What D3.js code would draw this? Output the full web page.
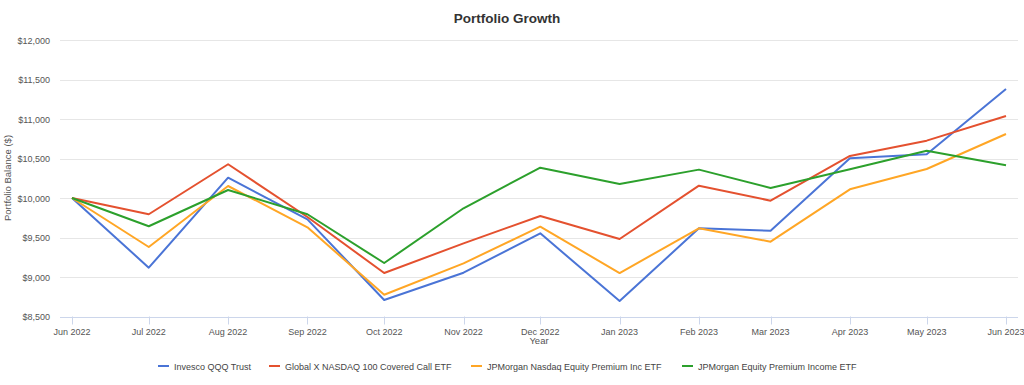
<!DOCTYPE html>
<html>
<head>
<meta charset="utf-8">
<script src="https://cdn.jsdelivr.net/npm/d3@7"></script>
<style>
	body { margin: 0; background: #fff; }
	svg { font-family: Arial, "Liberation Sans", sans-serif; }
</style>
</head>
<body>
<svg id="growth-chart" width="1024" height="385"></svg>
<script>
// monthly balances, Jun 2022 .. Jun 2023
const months = ['2022-06', '2022-07', '2022-08', '2022-09', '2022-10', '2022-11', '2022-12',
	'2023-01', '2023-02', '2023-03', '2023-04', '2023-05', '2023-06'];
const seriesNames = ['Invesco QQQ Trust', 'Global X NASDAQ 100 Covered Call ETF',
	'JPMorgan Nasdaq Equity Premium Inc ETF', 'JPMorgan Equity Premium Income ETF'];
const qqq = [10000, 9118, 10257, 9730, 8709, 9054, 9553, 8696, 9616, 9586, 10503, 10553, 11380];
const qyld = [10000, 9794, 10427, 9760, 9050, 9426, 9772, 9481, 10156, 9966, 10532, 10726, 11038];
const jepq = [10000, 9380, 10152, 9629, 8776, 9173, 9637, 9050, 9616, 9447, 10110, 10367, 10810];
const jepi = [10000, 9642, 10101, 9794, 9177, 9870, 10384, 10177, 10359, 10127, 10363, 10599, 10414];
const yTicks = [8500, 9000, 9500, 10000, 10500, 11000, 11500, 12000];
const colors = ['#4a74d6', '#e4512f', '#ffa625', '#2ca02c'];

const svg = d3.select('#growth-chart');
const parseMonth = d3.timeParse('%Y-%m');
const dates = months.map(parseMonth);
const allSeries = [qqq, qyld, jepq, jepi];

const //
	plotLeft = 60,
	plotRight = 1018,
	x = d3.scaleTime().domain([dates[0], dates[dates.length - 1]]).range([72, 1006]),
	y = d3.scaleLinear().domain([8500, 12000]).range([316.5, 40]);

//gridlines
svg.append('g')
	.selectAll('line')
	.data(yTicks)
	.enter()
	.append('line')
	.attr('x1', plotLeft)
	.attr('x2', plotRight)
	.attr('y1', d => Math.round(y(d)) + 0.5)
	.attr('y2', d => Math.round(y(d)) + 0.5)
	.attr('stroke', d => (d === 8500 ? '#ccd6eb' : '#e6e6e6'))
	.attr('stroke-width', 1);

//y labels
svg.append('g')
	.selectAll('text')
	.data(yTicks)
	.enter()
	.append('text')
	.attr('x', 50)
	.attr('y', d => y(d) + 3.5)
	.attr('text-anchor', 'end')
	.attr('font-size', '9px')
	.attr('fill', '#555')
	.text(d => d3.format('$,')(d));

//x axis ticks + labels
const xAxis = svg.append('g').attr('transform', 'translate(0,316.5)');
xAxis.selectAll('line')
	.data(dates)
	.enter()
	.append('line')
	.attr('x1', d => Math.round(x(d)) + 0.5)
	.attr('x2', d => Math.round(x(d)) + 0.5)
	.attr('y1', 0)
	.attr('y2', 8)
	.attr('stroke', '#ccd6eb');
xAxis.selectAll('text')
	.data(dates)
	.enter()
	.append('text')
	.attr('x', d => x(d))
	.attr('y', 18)
	.attr('text-anchor', 'middle')
	.attr('font-size', '9px')
	.attr('fill', '#555')
	.text(d => d3.timeFormat('%b %Y')(d));

//titles
svg.append('text')
	.attr('x', 507)
	.attr('y', 23)
	.attr('text-anchor', 'middle')
	.attr('font-size', '13.5px')
	.attr('font-weight', 'bold')
	.attr('fill', '#333')
	.text('Portfolio Growth');

svg.append('text')
	.attr('x', 539)
	.attr('y', 344)
	.attr('text-anchor', 'middle')
	.attr('font-size', '9.5px')
	.attr('fill', '#555')
	.text('Year');

svg.append('text')
	.attr('transform', 'translate(11,178) rotate(-90)')
	.attr('text-anchor', 'middle')
	.attr('font-size', '9.5px')
	.attr('fill', '#555')
	.text('Portfolio Balance ($)');

//series lines
const line = d3.line()
	.x((d, i) => x(dates[i]))
	.y(d => y(d));

svg.append('g')
	.selectAll('path')
	.data(allSeries)
	.enter()
	.append('path')
	.attr('d', line)
	.attr('fill', 'none')
	.attr('stroke', (d, i) => colors[i])
	.attr('stroke-width', 2)
	.attr('stroke-linejoin', 'round');

//legend
const legendX = [158, 269, 471, 682];
const legend = svg.append('g')
	.selectAll('g')
	.data(seriesNames)
	.enter()
	.append('g')
	.attr('transform', (d, i) => `translate(${legendX[i]},366)`);
legend.append('line')
	.attr('x1', 0)
	.attr('x2', 11)
	.attr('stroke', (d, i) => colors[i])
	.attr('stroke-width', 2);
legend.append('text')
	.attr('x', 16)
	.attr('y', 3.5)
	.attr('font-size', '9px')
	.attr('fill', '#444')
	.text(d => d);
</script>
</body>
</html>
